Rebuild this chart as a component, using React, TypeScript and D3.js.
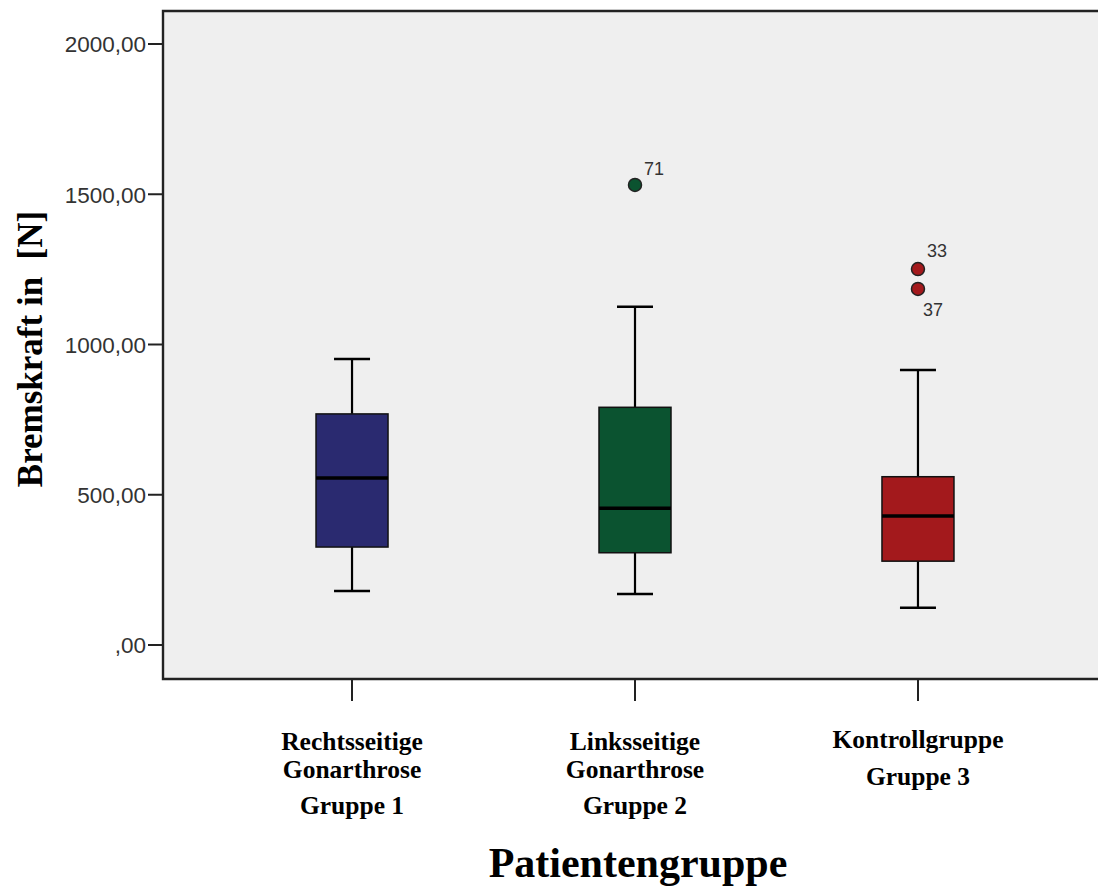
import React, { useEffect } from "react";
import * as d3 from "d3";

// Group labels (multi-line) and summary statistics for each box
const groupKeys = ["g1", "g2", "g3"];
const groupLabelLines = [
  ["Rechtsseitige", "Gonarthrose", "Gruppe 1"],
  ["Linksseitige", "Gonarthrose", "Gruppe 2"],
  ["Kontrollgruppe", "Gruppe 3"],
];
const whiskerLow = [180, 170, 124];
const q1 = [326, 307, 279];
const median = [556, 455, 429];
const q3 = [769, 791, 560];
const whiskerHigh = [952, 1126, 915];

// Outliers: group index, value, case number
const outlierGroup = [1, 2, 2];
const outlierValue = [1531, 1251, 1185];
const outlierCase = ["71", "33", "37"];

const yTicks = [0, 500, 1000, 1500, 2000];
const yTickLabels = [",00", "500,00", "1000,00", "1500,00", "2000,00"];

const boxColors = ["#2a2a70", "#0b5330", "#a3191c"];

const W = 1098;
const H = 889;
const plotLeft = 163;
const plotTop = 11;
const plotBottom = 679;

export default function App() {
  useEffect(() => {
    document.body.style.margin = "0";
    document.body.style.overflow = "hidden";
  }, []);

  const y = d3.scaleLinear().domain([0, 2000]).range([645, 44]);
  const x = d3
    .scalePoint<string>()
    .domain(groupKeys)
    .range([plotLeft, 1107])
    .padding(0.668);

  const boxW = 72;
  const capW = 36;
  const sans = "'Liberation Sans', Arial, sans-serif";
  const serif = "'Liberation Serif', 'Times New Roman', serif";

  // offsets of case labels relative to their points
  const caseLabelOffset = [
    [9, -10],
    [9, -12],
    [5, 27],
  ];

  return (
    <svg width={W} height={H} style={{ display: "block", background: "#fff" }}>
      {/* plot area */}
      <rect x={plotLeft} y={plotTop} width={W - plotLeft} height={plotBottom - plotTop} fill="#efefef" />
      <path
        d={`M${W},${plotTop}H${plotLeft}V${plotBottom}H${W}`}
        fill="none"
        stroke="#222"
        strokeWidth={2.4}
      />

      {/* y axis */}
      {yTicks.map((t, i) => (
        <g key={t}>
          <line x1={148} x2={plotLeft} y1={y(t)} y2={y(t)} stroke="#222" strokeWidth={2} />
          <text
            x={146}
            y={y(t)}
            dy="0.37em"
            textAnchor="end"
            fontFamily={sans}
            fontSize={22.5}
            fill="#333"
          >
            {yTickLabels[i]}
          </text>
        </g>
      ))}
      <text
        transform={`translate(42,349) rotate(-90)`}
        textAnchor="middle"
        fontFamily={serif}
        fontWeight="bold"
        fontSize={35}
        fill="#000"
        style={{ whiteSpace: "pre" }}
      >
        {"Bremskraft in  [N]"}
      </text>

      {/* x axis ticks and labels */}
      {groupKeys.map((g, i) => {
        const cx = x(g)!;
        const lines = groupLabelLines[i];
        const baselines = lines.length === 3 ? [750, 778, 814] : [748, 785];
        return (
          <g key={g}>
            <line x1={cx} x2={cx} y1={plotBottom} y2={701} stroke="#222" strokeWidth={2} />
            {lines.map((ln, j) => (
              <text
                key={j}
                x={cx}
                y={baselines[j]}
                textAnchor="middle"
                fontFamily={serif}
                fontWeight="bold"
                fontSize={25.5}
                fill="#000"
              >
                {ln}
              </text>
            ))}
          </g>
        );
      })}
      <text
        x={638}
        y={877}
        textAnchor="middle"
        fontFamily={serif}
        fontWeight="bold"
        fontSize={42}
        fill="#000"
      >
        Patientengruppe
      </text>

      {/* boxes */}
      {groupKeys.map((g, i) => {
        const cx = x(g)!;
        return (
          <g key={g}>
            <line x1={cx} x2={cx} y1={y(whiskerHigh[i])} y2={y(q3[i])} stroke="#000" strokeWidth={2.2} />
            <line x1={cx} x2={cx} y1={y(q1[i])} y2={y(whiskerLow[i])} stroke="#000" strokeWidth={2.2} />
            <line
              x1={cx - capW / 2}
              x2={cx + capW / 2}
              y1={y(whiskerHigh[i])}
              y2={y(whiskerHigh[i])}
              stroke="#000"
              strokeWidth={2.5}
            />
            <line
              x1={cx - capW / 2}
              x2={cx + capW / 2}
              y1={y(whiskerLow[i])}
              y2={y(whiskerLow[i])}
              stroke="#000"
              strokeWidth={2.5}
            />
            <rect
              x={cx - boxW / 2}
              y={y(q3[i])}
              width={boxW}
              height={y(q1[i]) - y(q3[i])}
              fill={boxColors[i]}
              stroke="#111"
              strokeWidth={1.5}
            />
            <line
              x1={cx - boxW / 2}
              x2={cx + boxW / 2}
              y1={y(median[i])}
              y2={y(median[i])}
              stroke="#000"
              strokeWidth={3.5}
            />
          </g>
        );
      })}

      {/* outliers */}
      {outlierValue.map((v, k) => {
        const gi = outlierGroup[k];
        const cx = x(groupKeys[gi])!;
        const cy = y(v);
        return (
          <g key={outlierCase[k]}>
            <circle cx={cx} cy={cy} r={6.5} fill={boxColors[gi]} stroke="#222" strokeWidth={1.5} />
            <text
              x={cx + caseLabelOffset[k][0]}
              y={cy + caseLabelOffset[k][1]}
              fontFamily={sans}
              fontSize={18}
              fill="#333"
            >
              {outlierCase[k]}
            </text>
          </g>
        );
      })}
    </svg>
  );
}
